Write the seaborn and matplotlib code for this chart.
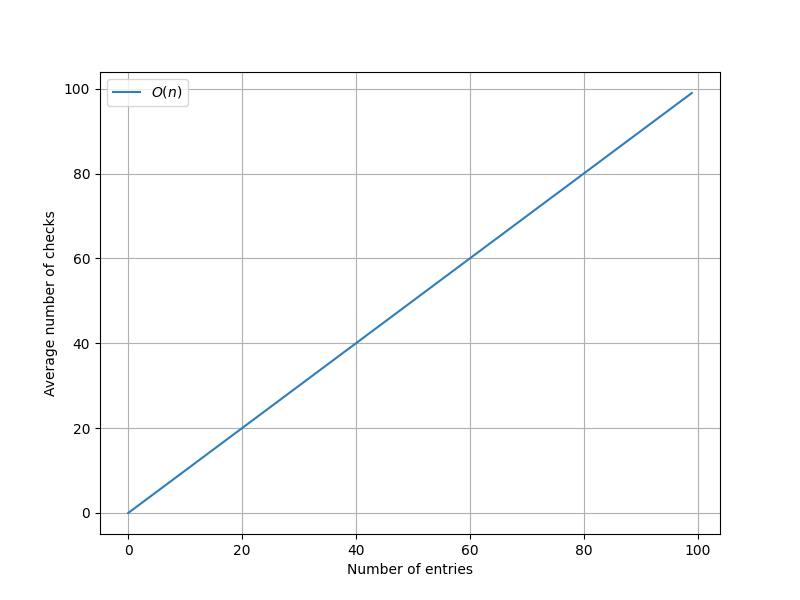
import matplotlib
matplotlib.use("Agg")
import matplotlib.pyplot as plt
import seaborn as sns
import pandas as pd

entries = [0, 1, 2, 3, 4, 5, 6, 7, 8, 9, 10, 11, 12, 13, 14, 15, 16, 17, 18, 19,
           20, 21, 22, 23, 24, 25, 26, 27, 28, 29, 30, 31, 32, 33, 34, 35, 36, 37, 38, 39,
           40, 41, 42, 43, 44, 45, 46, 47, 48, 49, 50, 51, 52, 53, 54, 55, 56, 57, 58, 59,
           60, 61, 62, 63, 64, 65, 66, 67, 68, 69, 70, 71, 72, 73, 74, 75, 76, 77, 78, 79,
           80, 81, 82, 83, 84, 85, 86, 87, 88, 89, 90, 91, 92, 93, 94, 95, 96, 97, 98, 99]
checks = [0, 1, 2, 3, 4, 5, 6, 7, 8, 9, 10, 11, 12, 13, 14, 15, 16, 17, 18, 19,
          20, 21, 22, 23, 24, 25, 26, 27, 28, 29, 30, 31, 32, 33, 34, 35, 36, 37, 38, 39,
          40, 41, 42, 43, 44, 45, 46, 47, 48, 49, 50, 51, 52, 53, 54, 55, 56, 57, 58, 59,
          60, 61, 62, 63, 64, 65, 66, 67, 68, 69, 70, 71, 72, 73, 74, 75, 76, 77, 78, 79,
          80, 81, 82, 83, 84, 85, 86, 87, 88, 89, 90, 91, 92, 93, 94, 95, 96, 97, 98, 99]
label = r"$O(n)$"

df = pd.DataFrame({"x": entries, "y": checks})

fig, ax = plt.subplots(figsize=(8, 6), dpi=100)
sns.lineplot(data=df, x="x", y="y", ax=ax, label=label, color="#2e7ebc")
ax.grid(True, color="#b0b0b0", linewidth=0.8)
ax.set_xlabel("Number of entries")
ax.set_ylabel("Average number of checks")
ax.legend(loc="upper left")
fig.savefig("out.png", dpi=100)
